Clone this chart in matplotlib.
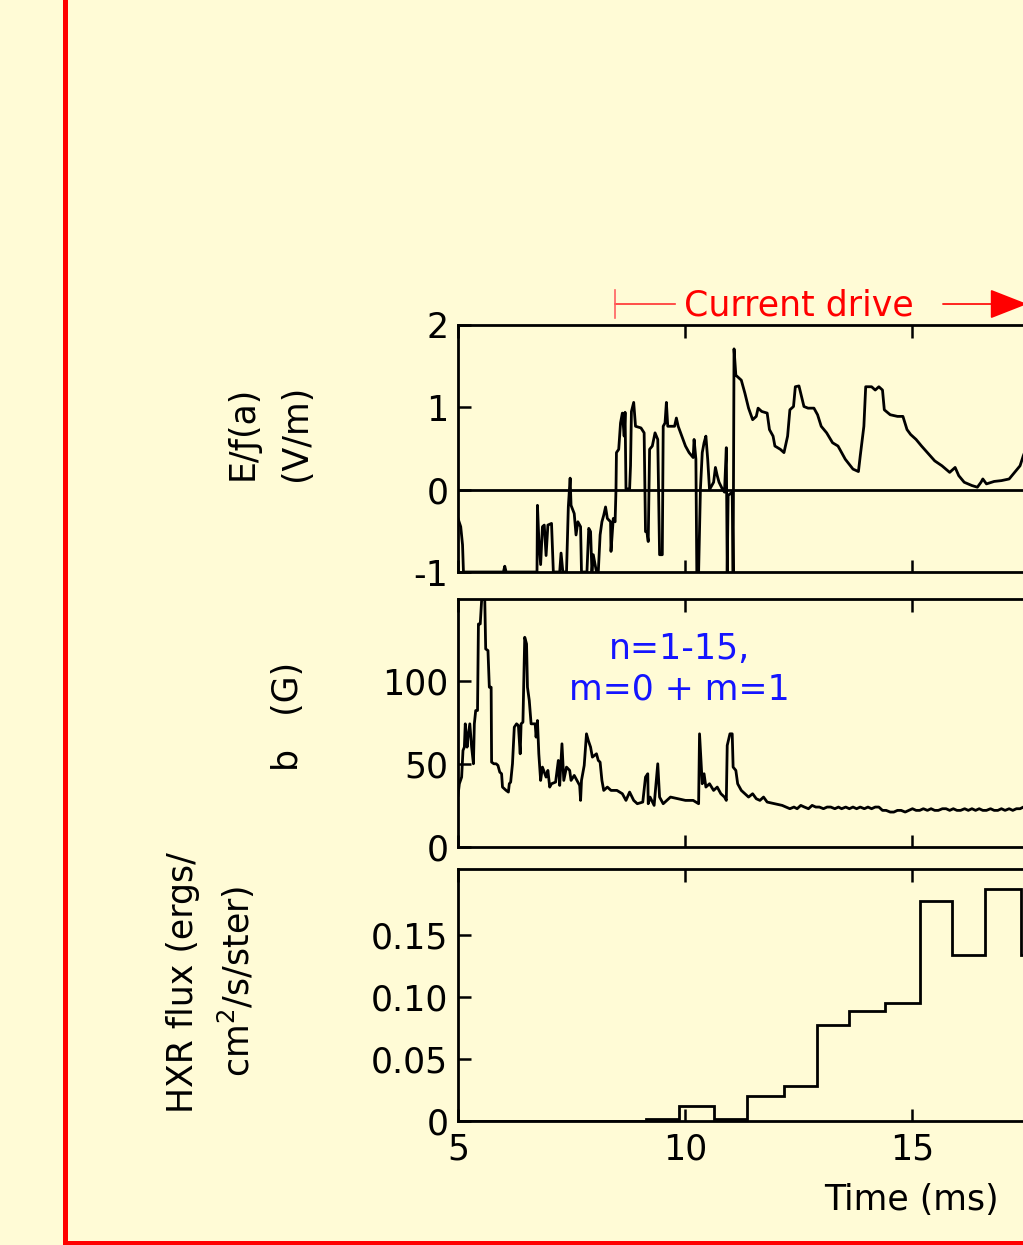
import matplotlib.pyplot as plt
from matplotlib.patches import Rectangle
from matplotlib.transforms import blended_transform_factory

plt.rcParams['font.family'] = ['DejaVu Sans']
plt.rcParams['font.size'] = 25
plt.rcParams['axes.unicode_minus'] = False

BG = '#FFFBD6'

# === data === #
t_e = [5.00, 5.06, 5.10, 5.12, 6.00, 6.03, 6.06, 6.74, 6.75, 6.78, 6.82, 6.86, 6.90,
       6.94, 6.98, 7.06, 7.10, 7.24, 7.27, 7.31, 7.39, 7.43, 7.47, 7.49, 7.56, 7.60,
       7.64, 7.70, 7.72, 7.84, 7.88, 7.92, 7.95, 7.98, 8.05, 8.09, 8.13, 8.17, 8.21,
       8.25, 8.29, 8.36, 8.37, 8.42, 8.46, 8.48, 8.49, 8.54, 8.58, 8.62, 8.66, 8.68,
       8.70, 8.78, 8.80, 8.82, 8.87, 8.91, 9.03, 9.10, 9.13, 9.16, 9.19, 9.22, 9.28,
       9.34, 9.40, 9.44, 9.50, 9.52, 9.56, 9.59, 9.62, 9.68, 9.77, 9.81, 9.85, 9.93,
       10.01, 10.09, 10.18, 10.20, 10.24, 10.26, 10.30, 10.34, 10.38, 10.42, 10.46,
       10.50, 10.54, 10.63, 10.67, 10.71, 10.75, 10.83, 10.87, 10.91, 10.93, 10.95,
       11.04, 11.06, 11.08, 11.12, 11.16, 11.24, 11.32, 11.40, 11.49, 11.57, 11.61,
       11.69, 11.81, 11.86, 11.94, 11.98, 12.10, 12.18, 12.26, 12.31, 12.39, 12.43,
       12.51, 12.55, 12.62, 12.71, 12.84, 12.92, 13.00, 13.12, 13.25, 13.37, 13.53,
       13.70, 13.82, 13.86, 13.94, 13.98, 14.11, 14.19, 14.27, 14.35, 14.39, 14.52,
       14.68, 14.80, 14.89, 14.97, 15.09, 15.21, 15.34, 15.50, 15.66, 15.83, 15.95,
       16.03, 16.15, 16.32, 16.44, 16.52, 16.56, 16.64, 16.81, 16.97, 17.14, 17.26,
       17.38, 17.45, 17.55]
e_par = [-0.35, -0.45, -0.67, -1.00, -1.00, -0.93, -1.00, -1.00, -0.19, -0.60, -0.91,
         -0.45, -0.43, -0.80, -0.43, -0.41, -1.00, -1.00, -0.77, -1.00, -1.00, -0.21,
         0.14, -0.19, -0.29, -0.55, -0.39, -0.45, -1.00, -1.00, -0.47, -0.51, -1.00,
         -0.79, -1.00, -1.00, -0.55, -0.39, -0.31, -0.21, -0.35, -0.39, -0.75, -0.35,
         -0.39, 0.00, 0.45, 0.49, 0.81, 0.93, 0.65, 0.94, 0.01, 0.01, 0.29, 0.95, 1.06,
         0.77, 0.75, 0.69, -0.51, -0.51, -0.63, 0.49, 0.53, 0.69, 0.61, -0.79, -0.79,
         0.77, 0.81, 1.06, 0.77, 0.77, 0.77, 0.87, 0.77, 0.65, 0.53, 0.45, 0.39, 0.61,
         0.37, -1.00, -1.00, 0.01, 0.45, 0.57, 0.65, 0.37, 0.00, 0.09, 0.27, 0.17, 0.09,
         0.00, -0.03, 0.51, -1.00, -0.07, -0.03, -1.00, 1.71, 1.39, 1.37, 1.33, 1.17,
         0.99, 0.85, 0.89, 0.99, 0.95, 0.93, 0.73, 0.65, 0.53, 0.49, 0.45, 0.65, 0.97,
         1.01, 1.25, 1.26, 1.17, 1.01, 0.99, 0.99, 0.91, 0.77, 0.69, 0.57, 0.53, 0.37,
         0.25, 0.22, 0.41, 0.77, 1.25, 1.25, 1.21, 1.25, 1.21, 0.97, 0.91, 0.89, 0.89,
         0.73, 0.67, 0.61, 0.53, 0.45, 0.35, 0.29, 0.21, 0.27, 0.17, 0.09, 0.05, 0.03,
         0.09, 0.13, 0.07, 0.10, 0.11, 0.13, 0.21, 0.29, 0.41, 0.55]

t_b = [5.00, 5.03, 5.08, 5.11, 5.14, 5.16, 5.20, 5.22, 5.26, 5.30, 5.34, 5.36, 5.39,
       5.43, 5.45, 5.49, 5.52, 5.56, 5.59, 5.61, 5.66, 5.69, 5.73, 5.74, 5.79, 5.84,
       5.88, 5.92, 5.96, 5.98, 6.02, 6.06, 6.11, 6.13, 6.16, 6.20, 6.24, 6.29, 6.33,
       6.37, 6.39, 6.43, 6.47, 6.51, 6.53, 6.57, 6.61, 6.70, 6.72, 6.75, 6.78, 6.82,
       6.86, 6.90, 6.94, 6.98, 7.02, 7.06, 7.15, 7.21, 7.24, 7.29, 7.33, 7.39, 7.46,
       7.49, 7.56, 7.62, 7.68, 7.70, 7.72, 7.78, 7.83, 7.87, 7.92, 7.96, 8.05, 8.09,
       8.13, 8.17, 8.21, 8.29, 8.37, 8.50, 8.62, 8.70, 8.78, 8.87, 8.95, 9.07, 9.13,
       9.18, 9.19, 9.23, 9.32, 9.40, 9.44, 9.52, 9.60, 9.68, 9.85, 10.01, 10.18, 10.30,
       10.32, 10.38, 10.42, 10.46, 10.54, 10.63, 10.71, 10.79, 10.87, 10.91, 10.93,
       10.99, 11.04, 11.06, 11.12, 11.16, 11.24, 11.32, 11.40, 11.49, 11.57, 11.65,
       11.73, 11.81, 11.98, 12.14, 12.31, 12.40, 12.47, 12.55, 12.63, 12.72, 12.80,
       12.88, 12.96, 13.05, 13.13, 13.21, 13.30, 13.38, 13.45, 13.54, 13.62, 13.70,
       13.78, 13.86, 13.95, 14.03, 14.11, 14.19, 14.27, 14.35, 14.43, 14.52, 14.60,
       14.68, 14.76, 14.85, 14.93, 15.01, 15.09, 15.17, 15.25, 15.34, 15.42, 15.50,
       15.58, 15.67, 15.75, 15.83, 15.91, 15.99, 16.07, 16.16, 16.24, 16.32, 16.40,
       16.48, 16.56, 16.64, 16.73, 16.81, 16.89, 16.97, 17.05, 17.14, 17.22, 17.30,
       17.38, 17.45, 17.55]
b_fluct = [31, 38, 42, 58, 60, 74, 60, 66, 74, 60, 50, 74, 82, 82, 134, 134, 148, 150,
           148, 119, 118, 96, 96, 51, 50, 50, 49, 45, 44, 36, 35, 34, 33, 38, 39, 50,
           72, 74, 73, 56, 74, 75, 126, 122, 96, 88, 74, 74, 66, 76, 56, 40, 48, 45, 42,
           46, 36, 38, 39, 52, 37, 62, 40, 48, 46, 40, 43, 40, 37, 28, 40, 49, 68, 64,
           60, 54, 56, 52, 51, 40, 34, 36, 34, 34, 32, 28, 33, 28, 26, 27, 42, 44, 26,
           30, 25, 50, 30, 26, 28, 30, 29, 28, 28, 26, 68, 38, 44, 36, 38, 34, 36, 32,
           30, 28, 61, 68, 68, 48, 46, 38, 34, 32, 30, 32, 29, 28, 30, 27, 26, 25, 23,
           24, 23, 25, 24, 23, 25, 24, 24, 23, 24, 24, 23, 24, 23, 24, 23, 24, 23, 24,
           23, 24, 23, 24, 24, 22, 22, 21, 21, 22, 22, 21, 22, 23, 22, 22, 23, 22, 23,
           22, 22, 23, 23, 22, 23, 22, 22, 23, 22, 23, 22, 23, 22, 22, 23, 22, 22, 23,
           22, 23, 22, 23, 23, 24, 25]

hxr_edges = [5.0, 9.14, 9.87, 10.64, 11.36, 12.18, 12.90, 13.62, 14.40, 15.18, 15.88,
             16.60, 17.41, 18.2]
hxr_flux = [0.0, 0.002, 0.012, 0.002, 0.020, 0.028, 0.077, 0.089, 0.095, 0.177,
            0.134, 0.187, 0.134]

# === figure: 1023 x 1245 px, axes placed in pixels === #
W, H = 1023, 1245
fig = plt.figure(figsize=(W / 100, H / 100), dpi=100, facecolor=BG)

def px_axes(top, bottom, left=458, right=458 + 15 * 45.4):
    return fig.add_axes([left / W, (H - bottom) / H, (right - left) / W, (bottom - top) / H])

ax1 = px_axes(325, 572)
ax2 = px_axes(599, 847)
ax3 = px_axes(869, 1121)

for ax in (ax1, ax2, ax3):
    ax.set_facecolor(BG)
    ax.set_xlim(5, 20)
    ax.set_xticks([5, 10, 15])
    ax.tick_params(direction='in', top=True, bottom=True, length=9, width=1.8,
                   labelsize=25)
    ax.tick_params(axis='y', pad=7)
    ax.tick_params(axis='x', pad=8)
    for s in ax.spines.values():
        s.set_linewidth(2)

ax1.plot(t_e, e_par, color='k', lw=2)
ax1.axhline(0, color='k', lw=2)
ax1.set_ylim(-1, 2)
ax1.set_yticks([-1, 0, 1, 2])
ax1.set_xticklabels([])

ax2.plot(t_b, b_fluct, color='k', lw=2)
ax2.set_ylim(0, 149)
ax2.set_yticks([0, 50, 100])
ax2.set_xticklabels([])
ax2.text(9.87, 107, 'n=1-15,\nm=0 + m=1', color='#1414FF', ha='center', va='center',
         fontsize=25, linespacing=1.25)

ax3.stairs(hxr_flux, hxr_edges, color='k', lw=2)
ax3.set_ylim(0, 0.203)
ax3.set_yticks([0, 0.05, 0.10, 0.15])
ax3.set_yticklabels(['0', '0.05', '0.10', '0.15'])

# current drive marker above the top panel
tr = blended_transform_factory(ax1.transData, ax1.transAxes)
ax1.plot([8.46, 9.78], [1.085, 1.085], color='#FF3030', lw=1.2, transform=tr, clip_on=False)
ax1.plot([8.46, 8.46], [1.03, 1.14], color='#FF6060', lw=1.2, transform=tr, clip_on=False)
ax1.text(12.51, 1.08, 'Current drive', color='#FF0000', ha='center', va='center',
         transform=tr, fontsize=25)
ax1.annotate('', xy=(17.6, 1.085), xytext=(15.62, 1.085), xycoords=tr, textcoords=tr,
             annotation_clip=False,
             arrowprops=dict(arrowstyle='-|>,head_length=1.2,head_width=0.47',
                             mutation_scale=20, color='#FF0000', lw=1.2))

# axis labels
def ftext(x, y, s, **kw):
    fig.text(x / W, (H - y) / H, s, ha='center', va='center', **kw)

ftext(243, 433, 'E/ƒ(a)', rotation=90)
ftext(296, 433, '(V/m)', rotation=90)
ftext(288, 716, 'b   (G)', rotation=90)
ftext(183, 983, 'HXR flux (ergs/', rotation=90)
ftext(236, 981, 'cm$^2$/s/ster)', rotation=90)
ftext(911, 1200, 'Time (ms)')

# slide border
fig.add_artist(Rectangle((63 / W, 0), 5 / W, 1, transform=fig.transFigure,
                         color='#FF0000', lw=0))
fig.add_artist(Rectangle((63 / W, 0), 1, 4 / H, transform=fig.transFigure,
                         color='#FF0000', lw=0))

fig.savefig('out.png', dpi=100, facecolor=BG)
